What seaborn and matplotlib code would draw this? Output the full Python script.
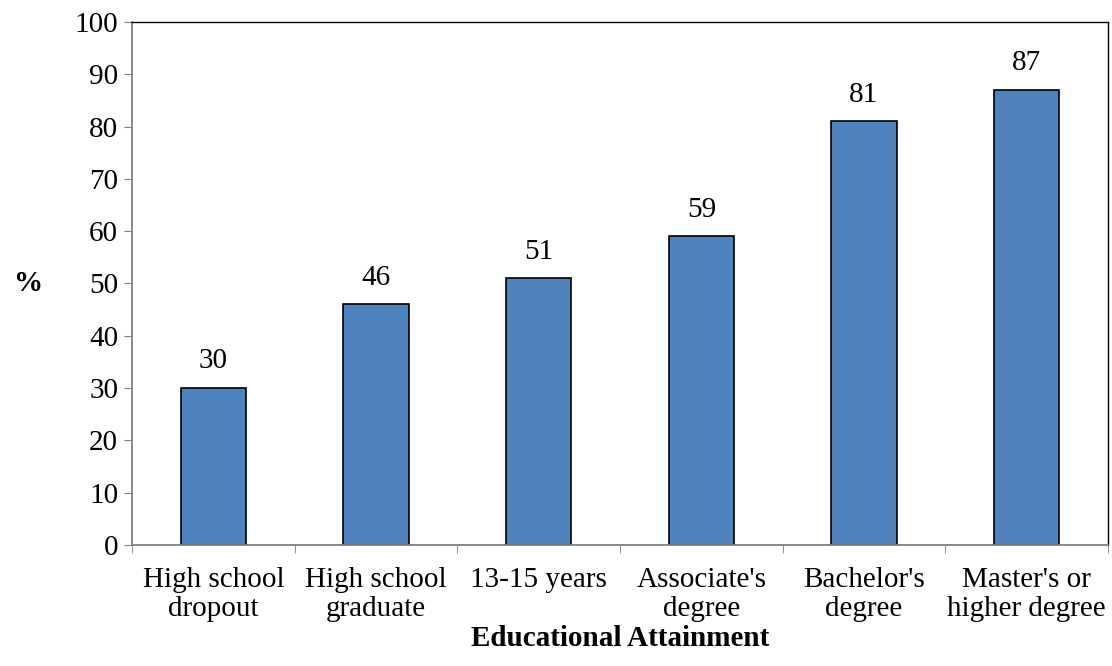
import matplotlib
matplotlib.use("Agg")
import matplotlib.pyplot as plt
import seaborn as sns
import pandas as pd
import numpy as np

categories = ["High school\ndropout", "High school\ngraduate", "13-15 years",
              "Associate's\ndegree", "Bachelor's\ndegree", "Master's or\nhigher degree"]
values = [30, 46, 51, 59, 81, 87]

df = pd.DataFrame({"level": categories, "pct": values})

sns.set_style("white")
plt.rcParams["font.family"] = ["Liberation Serif", "DejaVu Serif"]
plt.rcParams["text.color"] = "black"
plt.rcParams["xtick.color"] = "black"
plt.rcParams["ytick.color"] = "black"
plt.rcParams["axes.labelcolor"] = "black"

fs = 21

fig = plt.figure(figsize=(11.12, 6.66), dpi=100)
ax = fig.add_axes([0.1187, 0.1817, 0.8777, 0.7853])

sns.barplot(data=df, x="level", y="pct", color="#4F81BD", saturation=1,
            width=0.4, edgecolor="black", linewidth=1.2, ax=ax)

# value labels
for i, v in enumerate(values):
    ax.text(i, v + 2.6, str(v), ha="center", va="bottom", fontsize=fs)

ax.set_ylim(0, 100)
ax.set_xlim(-0.5, len(categories) - 0.5)
ax.set_yticks(np.arange(0, 101, 10))
ax.tick_params(axis="y", labelsize=fs, length=6, color="#808080", direction="out", left=True, pad=4)
ax.tick_params(axis="x", which="major", labelsize=fs, length=0, pad=16)
ax.set_xticks(np.arange(-0.5, len(categories), 1), minor=True)
ax.tick_params(axis="x", which="minor", length=6, color="#808080", direction="out", bottom=True)
for lbl in ax.get_xticklabels():
    lbl.set_linespacing(1.15)

for side in ["left", "bottom"]:
    ax.spines[side].set_color("#808080")
    ax.spines[side].set_linewidth(1.3)
for side in ["top", "right"]:
    ax.spines[side].set_color("black")
    ax.spines[side].set_linewidth(1.0)

ax.set_xlabel("Educational Attainment", fontsize=fs, fontweight="bold", labelpad=2)
ax.set_ylabel("%", fontsize=fs, fontweight="bold", rotation=0, labelpad=0, va="center")
ax.yaxis.set_label_coords(-0.106, 0.5)

fig.savefig("out.png", dpi=100)
